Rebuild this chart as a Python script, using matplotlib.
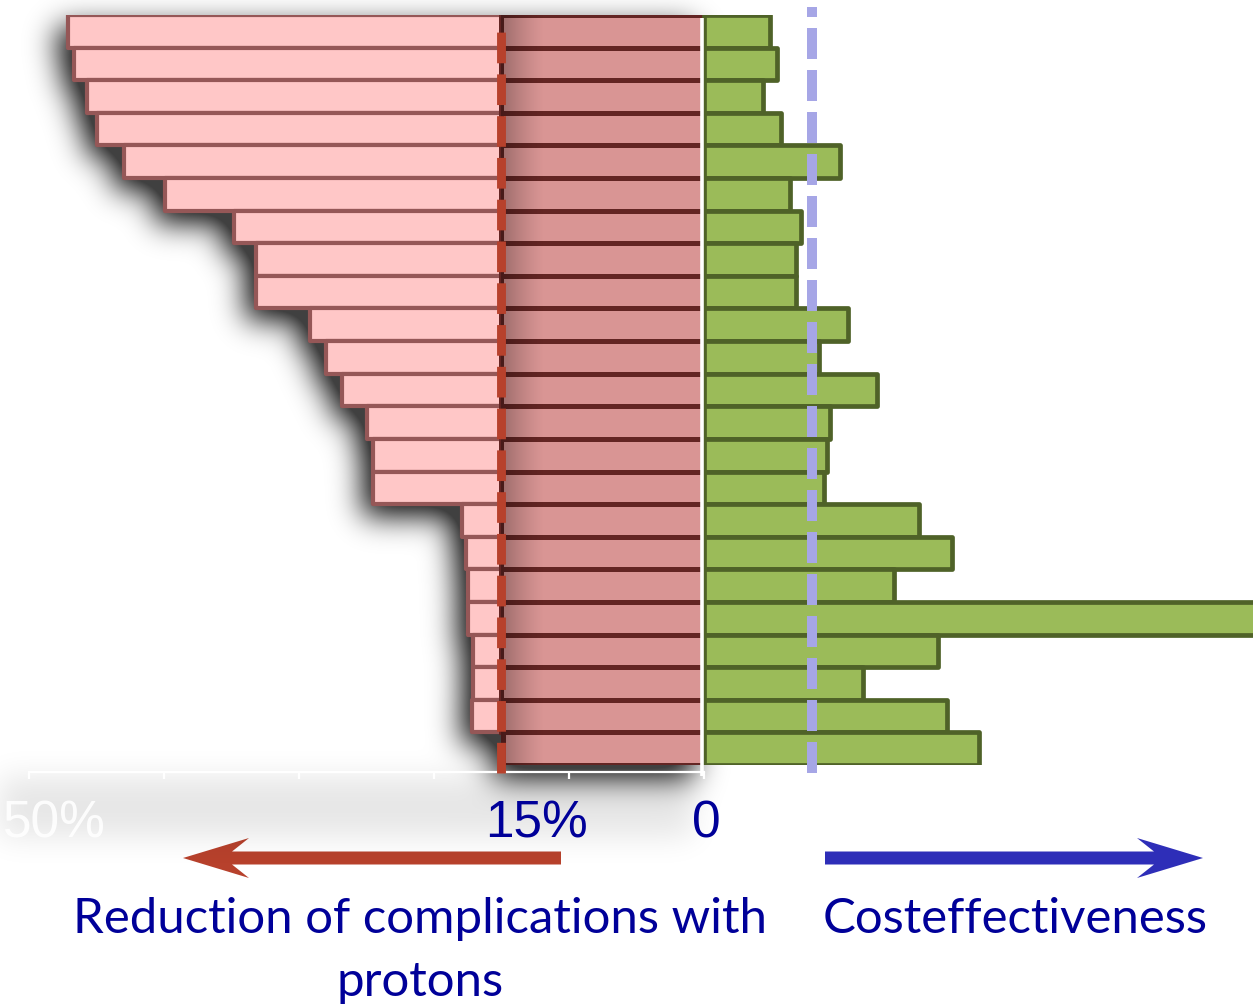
import numpy as np
import matplotlib
matplotlib.use("Agg")
import matplotlib.pyplot as plt
from matplotlib.patches import Polygon
from matplotlib.transforms import blended_transform_factory

# one row per case, listed top to bottom
reduction = [47.1, 46.7, 45.7, 45.0, 43.0, 39.9, 34.8, 33.2, 33.2, 29.2, 28.0, 26.8,
             25.0, 24.5, 24.5, 17.9, 17.6, 17.5, 17.5, 17.1, 17.1, 17.2, 14.9]   # % fewer complications
cost_eff = [4.9, 5.4, 4.4, 5.7, 10.1, 6.4, 7.2, 6.8, 6.8, 10.7, 8.5, 12.8,
            9.3, 9.1, 8.9, 15.9, 18.4, 14.1, 45.0, 17.3, 11.8, 18.0, 20.4]
reduction_cut = 15.0
cost_eff_cut = 8.0
tick_vals = [-50, -40, -30, -20, -10, 0]
axis_labels = ["15%", "0"]
left_title = ["Reduction of complications with", "protons"]
right_title = "Costeffectiveness"

PINK, PINK_EDGE = "#FFC7C7", "#955757"
DARK, DARK_EDGE = "#D99594", "#632523"
GREEN, GREEN_EDGE = "#9BBB59", "#4F6228"
RED, BLUE, LAVENDER, NAVY = "#B7412C", "#2E2EB8", "#A6A6E6", "#000099"

W, H = 1253, 1007
fig = plt.figure(figsize=(W / 100, H / 100), dpi=100)

# full-figure axes in pixel units for arrows and captions
bg = fig.add_axes([0, 0, 1, 1], zorder=0)
bg.axis("off")
bg.set_xlim(0, W)
bg.set_ylim(H, 0)

ax = fig.add_axes([0, 1 - 765 / H, 1, 750 / H], zorder=1)
ax.patch.set_visible(False)

y = np.arange(len(reduction))
red = np.array(reduction)
ce = np.array(cost_eff)
n = len(y)
XLIM, YLIM = (-52.15, 40.67), (n - 0.5, -0.5)
ax.set_xlim(*XLIM)
ax.set_ylim(*YLIM)

ax.barh(y, -red, height=1.0, color=PINK, edgecolor=PINK_EDGE, linewidth=3.0,
        joinstyle="round", zorder=2)
ax.barh(y, -np.minimum(red, reduction_cut), height=1.0, color=DARK,
        edgecolor=DARK_EDGE, linewidth=3.6, zorder=2.1)
ax.barh(y, ce, height=1.0, color=GREEN, edgecolor=GREEN_EDGE, linewidth=3.4,
        joinstyle="round", zorder=3)

# soft shading just right of the 15% cut
grad = np.zeros((1, 60, 4))
grad[..., 3] = np.linspace(0.38, 0.0, 60) ** 1.3
ax.imshow(grad, extent=[-reduction_cut, -reduction_cut + 3.2, n - 0.5, -0.5],
          aspect="auto", interpolation="bilinear", zorder=2.2)
ax.set_xlim(*XLIM)
ax.set_ylim(*YLIM)

# zero line
ax.plot([-0.12, -0.12], [-0.42, n - 0.5 + 0.33], color="white", lw=2.6,
        solid_capstyle="butt", clip_on=False, zorder=3.5)

# threshold lines, dashed from the bottom up
ax.plot([-reduction_cut, -reduction_cut], [n - 0.25, -0.2], color=RED, lw=6.4,
        dashes=(3.45, 1.25), clip_on=False, zorder=4)
ax.plot([cost_eff_cut, cost_eff_cut], [n - 0.25, -0.75], color=LAVENDER, lw=7.2,
        dashes=(3.1, 1.1), clip_on=False, zorder=4)

# faint x axis
for s in ["top", "left", "right"]:
    ax.spines[s].set_visible(False)
ax.spines["bottom"].set_position(("outward", 5))
ax.spines["bottom"].set_bounds(tick_vals[0], tick_vals[-1])
ax.spines["bottom"].set_color("white")
ax.spines["bottom"].set_linewidth(1.6)
ax.set_xticks(tick_vals)
ax.set_xticklabels([])
ax.tick_params(axis="x", colors="white", length=5, width=1.6)
ax.set_yticks([])

# drop shadow under the left-hand block, on a pixel grid (row 0 at the top)
tr = ax.transData
mask = np.zeros((H, W))
for yi, v in zip(y, red):
    (x0, ya), (x1, yb) = tr.transform([(-v, yi - 0.5), (0, yi + 0.5)])
    r0, r1 = sorted((int(round(H - ya)), int(round(H - yb))))
    mask[r0:r1, int(round(x0)):int(round(x1))] = 1.0
(x0, ya), (x1, _) = tr.transform([(tick_vals[0], n - 0.5), (0, n - 0.5)])
band = mask[int(H - ya):int(H - ya) + 60, max(int(x0) - 30, 0):int(x1)]
band[:] = np.maximum(band, 0.1)

dy, dx = 12, 10   # shadow falls down and to the left
shifted = np.zeros_like(mask)
shifted[dy:, :W - dx] = mask[:H - dy, dx:]


def blur(img, sigma):
    k = int(3 * sigma)
    g = np.exp(-np.arange(-k, k + 1) ** 2 / (2 * sigma ** 2))
    g /= g.sum()
    out = np.apply_along_axis(lambda r: np.convolve(r, g, mode="same"), 1, img)
    return np.apply_along_axis(lambda c: np.convolve(c, g, mode="same"), 0, out)


shade = blur(shifted, 15)
rgba = np.zeros((H, W, 4))
rgba[..., 3] = np.clip(shade * 1.0, 0, 0.75)
# place the pixel grid over the whole figure, expressed in data units
inv = tr.inverted()
(fx0, fy_bot), (fx1, fy_top) = inv.transform([(0, 0), (W, H)])
shadow = ax.imshow(rgba, extent=[fx0, fx1, fy_bot, fy_top], origin="upper",
                   aspect="auto", interpolation="nearest", zorder=1)
shadow.set_clip_on(False)
ax.set_xlim(*XLIM)
ax.set_ylim(*YLIM)

# tick labels (x in data units, y in pixels)
xlab = blended_transform_factory(ax.transData, bg.transData)
lab_font = dict(family=["Liberation Sans", "DejaVu Sans"], fontsize=37, va="baseline",
                transform=xlab)
ax.text(-12.4, 837, axis_labels[0], color=NAVY, ha="center", **lab_font)
ax.text(0.15, 837, axis_labels[1], color=NAVY, ha="center", **lab_font)
ax.text(-51.9, 837, "50%", color="white", alpha=0.9, ha="left", **lab_font)


def stealth_arrow(x_tail, x_tip, yc, color, shaft=13, head_len=66, head_w=40, notch=17):
    d = np.sign(x_tip - x_tail)
    back = x_tip - d * head_len
    neck = back + d * notch
    pts = [(x_tip, yc), (back, yc - head_w / 2), (neck, yc - shaft / 2),
           (x_tail, yc - shaft / 2), (x_tail, yc + shaft / 2), (neck, yc + shaft / 2),
           (back, yc + head_w / 2)]
    bg.add_patch(Polygon(pts, closed=True, facecolor=color, edgecolor="none", zorder=5))


stealth_arrow(561, 183, 858, RED)
stealth_arrow(825, 1203, 858, BLUE)

# captions, sized so the first line spans its arrow region
renderer = fig.canvas.get_renderer()
cap = dict(family=["Lato", "DejaVu Sans"], color=NAVY, ha="center", va="baseline", zorder=5)
t1 = bg.text(420, 933, left_title[0], fontsize=36, **cap)
fs = 36 * 695 / t1.get_window_extent(renderer).width
t1.set_fontsize(fs)
bg.text(420, 996, left_title[1], fontsize=fs, **cap)
bg.text(1015, 933, right_title, fontsize=fs, **cap)

fig.savefig("out.png", dpi=100)
